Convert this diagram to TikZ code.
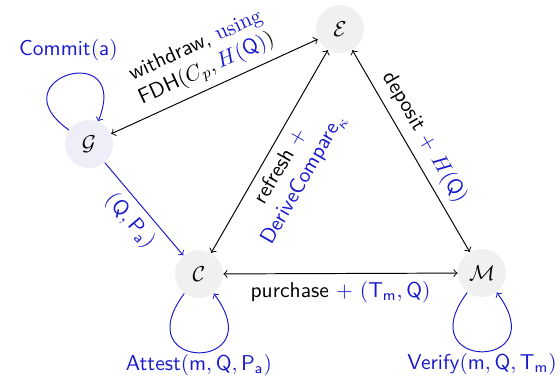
\documentclass[tikz,border=0pt]{standalone}
\usepackage{amsmath}
\definecolor{lblue}{RGB}{25,25,205}
\definecolor{nodegray}{RGB}{240,240,240}
\definecolor{nodeblue}{RGB}{238,238,248}
\begin{document}
\begin{tikzpicture}[x=0.465pt,y=-0.465pt,
  st/.style={circle,minimum size=22.3pt,inner sep=0pt},
  stg/.style={st,fill=nodegray},
  stb/.style={st,fill=nodeblue},
  lbl/.style={font=\sffamily,align=center},
  conn/.style={line width=0.45pt},
  bconn/.style={conn,draw=lblue}]
\useasboundingbox (0,0) rectangle (560,386);
\node[stg] (E) at (340,29) {$\mathcal{E}$};
\node[stb] (G) at (89,144) {$\mathcal{G}$};
\node[stg] (C) at (199,274) {$\mathcal{C}$};
\node[stg] (M) at (482,273) {$\mathcal{M}$};
\draw[conn,<->] (G) -- node[lbl,sloped,above,pos=0.5] {withdraw, \textcolor{lblue}{\textrm{using}}\\FDH$(C_p,\textcolor{lblue}{H(\mathsf{Q})})$} (E);
\draw[conn,<->] (C) -- node[lbl,sloped,below,pos=0.47] {refresh \textcolor{lblue}{$+$}\\\textcolor{lblue}{$\mathsf{DeriveCompare}_\kappa$}} (E);
\draw[conn,<->] (E) -- node[lbl,sloped,above,pos=0.48] {deposit \textcolor{lblue}{$+\ H(\mathsf{Q})$}} (M);
\draw[conn,<->] (C) -- node[lbl,below,pos=0.5] {purchase \textcolor{lblue}{$+\ (\mathsf{T_m},\mathsf{Q})$}} (M);
\draw[bconn,->] (G) -- node[lbl,sloped,below,pos=0.5,text=lblue] {$(\mathsf{Q},\mathsf{P_a})$} (C);
\draw[bconn,->] (G) to[out=145,in=68,distance=42pt] node[lbl,above=3pt,text=lblue] {Commit$(\mathsf{a})$} (G);
\draw[bconn,->] (C) to[out=233,in=307,distance=46pt] node[lbl,below=-3pt,text=lblue] {Attest$(\mathsf{m},\mathsf{Q},\mathsf{P_a})$} (C);
\draw[bconn,->] (M) to[out=233,in=307,distance=46pt] node[lbl,below=-3pt,text=lblue] {Verify$(\mathsf{m},\mathsf{Q},\mathsf{T_m})$} (M);
\end{tikzpicture}
\end{document}
